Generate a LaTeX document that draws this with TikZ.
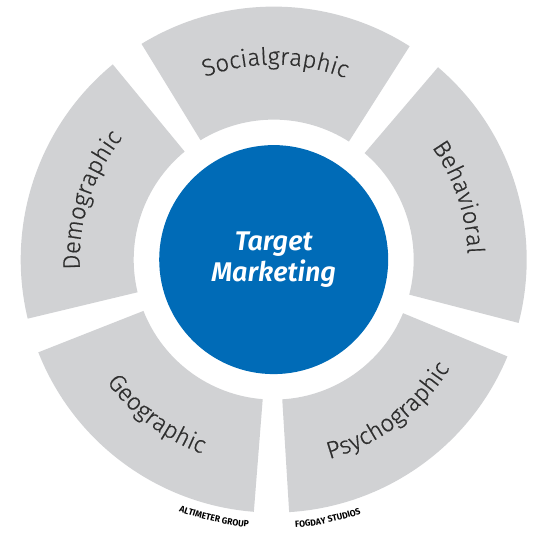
\documentclass[tikz,border=0pt]{standalone}
\usepackage{fontspec}
\setmainfont{Fira Sans}
\newfontfamily\smallfont[FakeStretch=0.95]{Fira Sans}
\newfontfamily\labelfont[FakeBold=0.5]{Fira Sans Light}
\newfontfamily\corefont{Fira Sans SemiBold Italic}
\usetikzlibrary{decorations.text}
\definecolor{seggray}{HTML}{D1D2D4}
\definecolor{coreblue}{HTML}{006BB7}
\definecolor{labeltext}{HTML}{2E2E2E}
\tikzset{
  segment/.style={fill=seggray, draw=none},
  core/.style={circle, fill=coreblue, draw=none, minimum size=229pt, inner sep=0pt,
    text=white, font=\corefont\fontsize{27}{31.5}\selectfont, align=center},
  arclabel/.style={decorate, decoration={text along path, text align=center,
    text color=labeltext, text={|\labelfont\fontsize{24}{24}\selectfont|#1}}},
  creditlabel/.style={decorate, decoration={text along path, text align=center,
    text color=black, text={|\smallfont\bfseries\fontsize{9}{9}\selectfont|#1}}}
}
\begin{document}
\begin{tikzpicture}[x=1pt,y=1pt]
\useasboundingbox (-273.7,-283.4) rectangle (264.3,259.6);
% ring segments
\foreach \c in {89.5,17.5,-54.5,-126.5,161.5}{
  \pgfmathsetmacro{\a}{\c+32}
  \pgfmathsetmacro{\b}{\c-32}
  \fill[segment] (\a:140) arc[start angle=\a, end angle=\b, radius=140]
    -- (\b:253) arc[start angle=\b, end angle=\a, radius=253] -- cycle;
}
% centre
\node[core] (core) at (0,0) {Target\\Marketing};
% labels
\path[arclabel=Socialgraphic] (121.5:195) arc[start angle=121.5, end angle=57.5, radius=195];
\path[arclabel=Demographic] (194:194) arc[start angle=194, end angle=130, radius=194];
\path[arclabel=Behavioral] (50.5:194) arc[start angle=50.5, end angle=-13.5, radius=194];
\path[arclabel=Geographic] (-159:207) arc[start angle=-159, end angle=-95, radius=207];
\path[arclabel=Psychographic] (-85:207) arc[start angle=-85, end angle=-21, radius=207];
% credits
\path[creditlabel={ALTIMETER GROUP}] (-118:269) arc[start angle=-118, end angle=-88, radius=269];
\path[creditlabel={FOGDAY STUDIOS}] (-93.2:269) arc[start angle=-93.2, end angle=-63.2, radius=269];
\end{tikzpicture}
\end{document}
